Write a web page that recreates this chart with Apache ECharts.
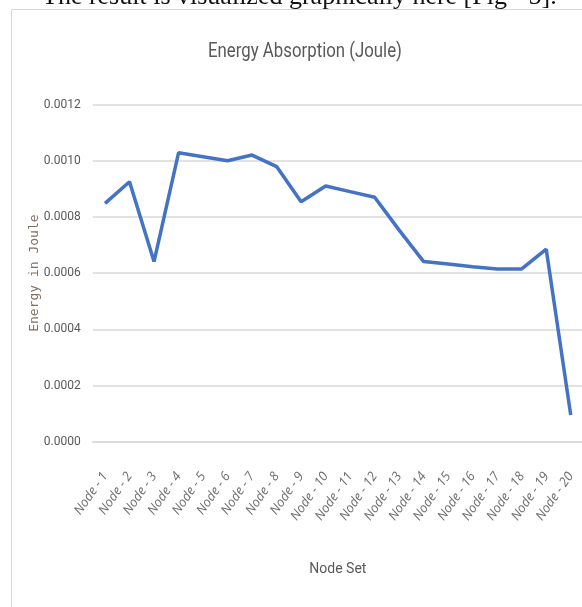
<!DOCTYPE html>
<html>
<head>
<meta charset="utf-8">
<style>
  html, body { margin: 0; padding: 0; background: #fff; }
  #chart { width: 582px; height: 607px; }
</style>
<script src="https://cdn.jsdelivr.net/npm/echarts@6/dist/echarts.min.js"></script>
</head>
<body>
<div id="chart"></div>
<script>
// node names along the x axis
const nodes = [
  'Node - 1', 'Node - 2', 'Node - 3', 'Node - 4', 'Node - 5',
  'Node - 6', 'Node - 7', 'Node - 8', 'Node - 9', 'Node - 10',
  'Node - 11', 'Node - 12', 'Node - 13', 'Node - 14', 'Node - 15',
  'Node - 16', 'Node - 17', 'Node - 18', 'Node - 19', 'Node - 20'
]
// energy absorbed per node (Joule)
const energy = [
  0.000848, 0.000925, 0.000641, 0.001028, 0.001014,
  0.001000, 0.001020, 0.000979, 0.000854, 0.000910,
  0.000890, 0.000870, 0.000753, 0.000641, 0.000632,
  0.000623, 0.000615, 0.000615, 0.000685, 0.000095
]
const yTicks = { min: 0, max: 0.0012, step: 0.0002 }

const caption = 'The result is visualized graphically here [Fig - 5].'
const chartTitle = 'Energy Absorption (Joule)'
const sans = 'Roboto, "Liberation Sans", sans-serif'

const chart = echarts.init(document.getElementById('chart'))

chart.setOption({
  backgroundColor: '#fff',
  animation: false,
  graphic: [
    {
      type: 'rect',
      shape: { x: 11.5, y: 9.5, width: 600, height: 620 },
      style: { fill: 'none', stroke: '#d9d9d9', lineWidth: 1 },
      silent: true
    },
    {
      type: 'text',
      x: 42,
      y: -3,
      style: {
        text: caption,
        font: '26px "Liberation Serif", "DejaVu Serif", serif',
        fill: '#111',
        verticalAlign: 'middle'
      },
      silent: true
    },
    {
      // condensed title: squeeze a regular face horizontally
      type: 'text',
      x: 305,
      y: 52,
      scaleX: 0.8,
      style: {
        text: chartTitle,
        font: '21px ' + sans,
        fill: '#595959',
        align: 'center',
        verticalAlign: 'middle'
      },
      silent: true
    }
  ],
  grid: { left: 92.75, right: -1, top: 104.5, bottom: 165.3, containLabel: false, outerBoundsMode: 'none' },
  xAxis: {
    type: 'category',
    data: nodes,
    boundaryGap: true,
    name: 'Node Set',
    nameLocation: 'middle',
    nameGap: 121,
    nameMoveOverlap: false,
    nameTextStyle: { fontFamily: sans, fontSize: 14, color: '#595959', verticalAlign: 'top' },
    axisLine: { show: true, lineStyle: { color: '#d9d9d9', width: 1.5 } },
    axisTick: { show: false },
    axisLabel: {
      interval: 0,
      rotate: 55,
      margin: 32,
      fontFamily: '"Open Sans", sans-serif',
      fontStyle: 'italic',
      fontSize: 13,
      color: '#6e6e6e'
    }
  },
  yAxis: {
    type: 'value',
    min: yTicks.min,
    max: yTicks.max,
    interval: yTicks.step,
    name: 'Energy in Joule',
    nameLocation: 'middle',
    nameGap: 52,
    nameMoveOverlap: false,
    nameTextStyle: { fontFamily: '"DejaVu Sans Mono", monospace', fontSize: 13, color: '#7f7063' },
    axisLine: { show: false },
    axisTick: { show: false },
    axisLabel: {
      margin: 12,
      fontFamily: sans,
      fontSize: 12,
      color: '#595959',
      formatter: v => v.toFixed(4)
    },
    splitLine: { lineStyle: { color: '#d9d9d9', width: 1.5 } }
  },
  series: [
    {
      type: 'line',
      data: energy,
      showSymbol: false,
      lineStyle: { color: '#4472c4', width: 3.5 },
      itemStyle: { color: '#4472c4' }
    }
  ]
})
</script>
</body>
</html>
